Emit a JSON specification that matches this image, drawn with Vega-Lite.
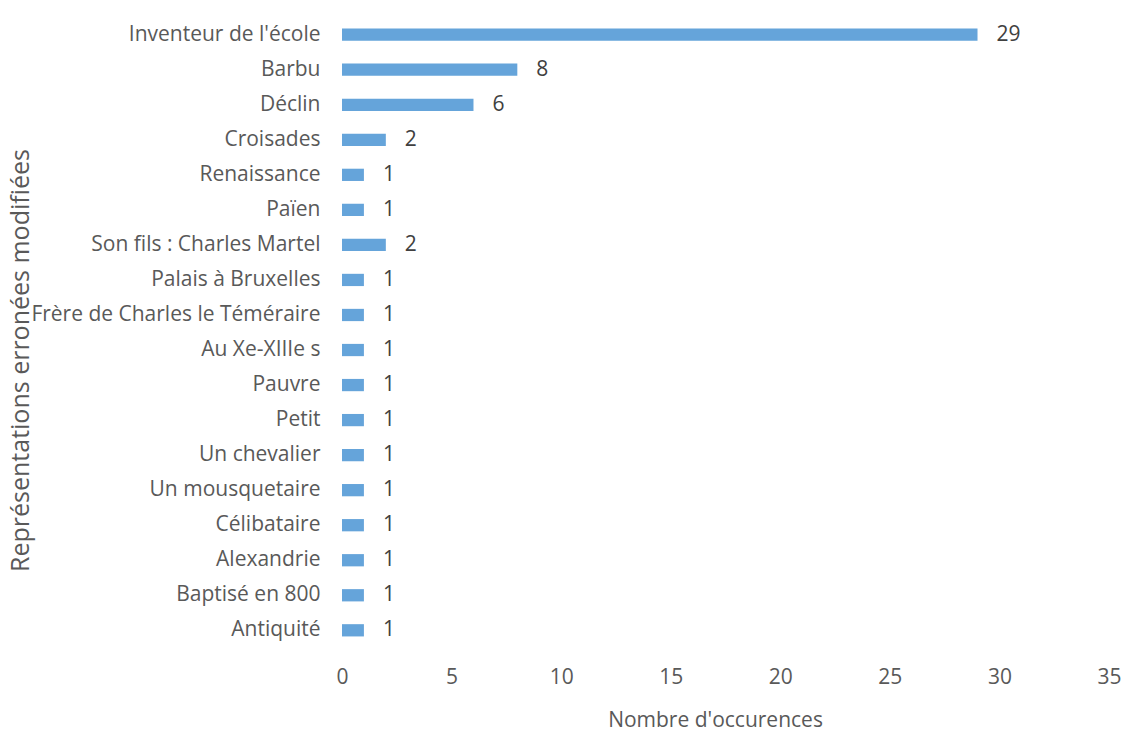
{
  "$schema": "https://vega.github.io/schema/vega-lite/v6.json",
  "width": 767,
  "height": 631,
  "autosize": {"type": "none"},
  "padding": {"left": 342, "top": 17, "right": 19, "bottom": 83},
  "background": "white",
  "config": {
    "view": {"stroke": null},
    "font": "Open Sans",
    "text": {"font": "Open Sans"}
  },
  "data": {
    "values": [
      {"cat": "Inventeur de l'école", "n": 29},
      {"cat": "Barbu", "n": 8},
      {"cat": "Déclin", "n": 6},
      {"cat": "Croisades", "n": 2},
      {"cat": "Renaissance", "n": 1},
      {"cat": "Païen", "n": 1},
      {"cat": "Son fils : Charles Martel", "n": 2},
      {"cat": "Palais à Bruxelles", "n": 1},
      {"cat": "Frère de Charles le Téméraire", "n": 1},
      {"cat": "Au Xe-XIIIe s", "n": 1},
      {"cat": "Pauvre", "n": 1},
      {"cat": "Petit", "n": 1},
      {"cat": "Un chevalier", "n": 1},
      {"cat": "Un mousquetaire", "n": 1},
      {"cat": "Célibataire", "n": 1},
      {"cat": "Alexandrie", "n": 1},
      {"cat": "Baptisé en 800", "n": 1},
      {"cat": "Antiquité", "n": 1}
    ]
  },
  "encoding": {
    "y": {
      "field": "cat",
      "type": "nominal",
      "sort": null,
      "scale": {"paddingInner": 0.65, "paddingOuter": 0.33},
      "axis": {
        "title": "Représentations erronées modifiées",
        "titleFont": "Open Sans",
        "titleFontSize": 25,
        "titleFontWeight": "normal",
        "titleColor": "#595959",
        "titleX": -322,
        "titleY": 343,
        "titleAngle": -90,
        "titleAlign": "center",
        "titleBaseline": "middle",
        "labelFont": "Open Sans",
        "labelFontSize": 21,
        "labelColor": "#595959",
        "labelPadding": 22,
        "ticks": false,
        "domain": false,
        "grid": false,
        "labelLimit": 400
      }
    },
    "x": {
      "field": "n",
      "type": "quantitative",
      "scale": {"domain": [0, 35], "nice": false},
      "axis": {
        "title": "Nombre d'occurences",
        "titleFont": "Open Sans",
        "titleFontSize": 21,
        "titleFontWeight": "normal",
        "titleColor": "#595959",
        "titleX": 373,
        "titleY": 72,
        "titleAlign": "center",
        "titleBaseline": "middle",
        "labelFont": "Open Sans",
        "labelFontSize": 21,
        "labelColor": "#595959",
        "labelPadding": 18,
        "labelFlush": false,
        "values": [0, 5, 10, 15, 20, 25, 30, 35],
        "ticks": false,
        "domain": false,
        "grid": false
      }
    }
  },
  "layer": [
    {"mark": {"type": "bar", "color": "#65A4DA"}},
    {
      "mark": {"type": "text", "align": "left", "baseline": "middle", "dx": 19, "fontSize": 21, "color": "#404040", "font": "Open Sans"},
      "encoding": {"text": {"field": "n", "type": "quantitative"}}
    }
  ]
}
